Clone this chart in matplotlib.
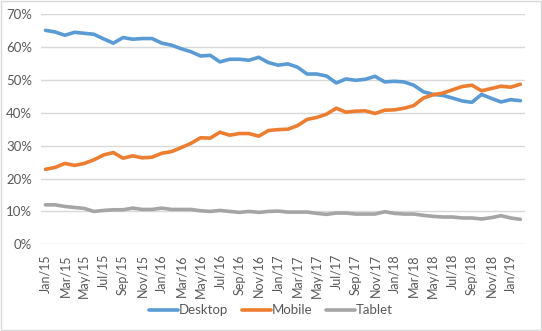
import matplotlib
matplotlib.use("Agg")
import matplotlib.pyplot as plt
import pandas as pd

meses = pd.date_range("2015-01-01", periods=50, freq="MS")
rotulos = [m.strftime("%b/%y") for m in meses]

desktop = [65.1, 64.6, 63.6, 64.5, 64.2, 63.9, 62.5, 61.2, 62.9, 62.4,
           62.6, 62.6, 61.2, 60.6, 59.5, 58.6, 57.3, 57.5, 55.5, 56.3,
           56.3, 56.0, 56.9, 55.3, 54.5, 54.9, 53.9, 51.8, 51.8, 51.2,
           49.1, 50.3, 49.9, 50.2, 51.1, 49.4, 49.6, 49.4, 48.4, 46.4,
           45.6, 45.3, 44.5, 43.6, 43.2, 45.6, 44.4, 43.3, 44.0, 43.7]

mobile = [22.8, 23.4, 24.6, 24.0, 24.6, 25.7, 27.2, 27.9, 26.2, 26.9,
          26.3, 26.5, 27.7, 28.2, 29.4, 30.7, 32.4, 32.3, 34.1, 33.2,
          33.7, 33.7, 32.9, 34.6, 34.9, 35.0, 36.1, 38.0, 38.6, 39.6,
          41.4, 40.2, 40.5, 40.6, 39.8, 40.8, 40.9, 41.4, 42.2, 44.5,
          45.5, 46.0, 47.0, 48.0, 48.4, 46.7, 47.4, 48.1, 47.8, 48.7]

tablet = [12.0, 12.0, 11.5, 11.2, 10.9, 10.0, 10.3, 10.5, 10.5, 11.0,
          10.6, 10.6, 11.0, 10.6, 10.6, 10.6, 10.2, 10.0, 10.3, 10.0,
          9.7, 10.0, 9.7, 10.0, 10.1, 9.8, 9.8, 9.8, 9.4, 9.1,
          9.5, 9.5, 9.2, 9.2, 9.2, 9.9, 9.4, 9.2, 9.2, 8.8,
          8.5, 8.3, 8.3, 8.0, 8.0, 7.7, 8.1, 8.7, 8.0, 7.6]

cinza_texto = "#595959"
plt.rcParams['font.family'] = ['Lato', 'DejaVu Sans']

fig = plt.figure(figsize=(5.42, 3.31), dpi=100)
ax = fig.add_axes([0.075, 0.262, 0.894, 0.695])

x = range(len(meses))
ax.plot(x, desktop, color="#5B9BD5", lw=2.6, label="Desktop", solid_capstyle="round")
ax.plot(x, mobile, color="#ED7D31", lw=2.6, label="Mobile", solid_capstyle="round")
ax.plot(x, tablet, color="#A5A5A5", lw=2.6, label="Tablet", solid_capstyle="round")

ax.set_xlim(-0.5, 49.5)
ax.set_ylim(0, 70)
ax.set_yticks(range(0, 71, 10))
ax.yaxis.set_major_formatter('{x:.0f}%')
ax.set_xticks(list(x)[::2])
ax.set_xticklabels(rotulos[::2], rotation=90)

ax.grid(axis="y", color="#D9D9D9", lw=1)
ax.set_axisbelow(True)
for s in ax.spines.values():
    s.set_visible(False)
ax.tick_params(axis="y", length=0, colors=cinza_texto, labelsize=9.5, pad=6)
ax.tick_params(axis="x", length=0, colors=cinza_texto, labelsize=9, pad=7)

fig.legend(loc="center", bbox_to_anchor=(0.5, 0.063), ncol=3, frameon=False,
           fontsize=9.5, labelcolor=cinza_texto, handlelength=2.2, columnspacing=1.0,
           handletextpad=0.1)

fig.patches.append(plt.Rectangle((0.002, 0.003), 0.996, 0.994, transform=fig.transFigure,
                                 fill=False, edgecolor="#D9D9D9", lw=1))

fig.savefig("out.png", dpi=100)
